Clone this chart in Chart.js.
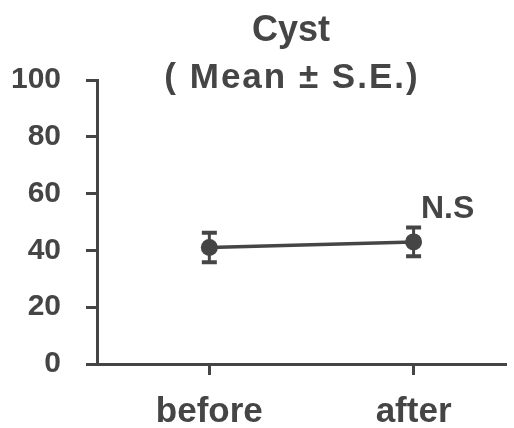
<!DOCTYPE html>
<html>
<head>
<meta charset="utf-8">
<script src="https://cdn.jsdelivr.net/npm/chart.js@4/dist/chart.umd.min.js"></script>
<style>
  html, body { margin: 0; padding: 0; background: #fff; }
  #wrap { width: 514px; height: 428px; }
</style>
</head>
<body>
<div id="wrap"><canvas id="cyst-chart"></canvas></div>
<script>
const categories = ['before', 'after'];
const meanValues = [41, 43];
const seValues = [5.2, 5.1];
const yTicks = [0, 20, 40, 60, 80, 100];
const titleLines = ['Cyst', '( Mean \u00b1 S.E.)'];
const sigLabel = 'N.S';

const ink = '#454545';
const fontFamily = '"Liberation Sans", Arial, sans-serif';

// error bars drawn from the scales
const errorBars = {
    id: 'errorBars',
    afterDatasetsDraw(chart) {
        const ctx = chart.ctx;
        const xs = chart.scales.x;
        const ys = chart.scales.y;
        ctx.save();
        ctx.strokeStyle = ink;
        meanValues.forEach((m, i) => {
            const px = xs.getPixelForValue(i);
            const top = ys.getPixelForValue(m + seValues[i]);
            const bot = ys.getPixelForValue(m - seValues[i]);
            ctx.lineWidth = 3;
            ctx.beginPath();
            ctx.moveTo(px, top);
            ctx.lineTo(px, bot);
            ctx.stroke();
            ctx.lineWidth = 4;
            ctx.beginPath();
            ctx.moveTo(px - 7.5, top);
            ctx.lineTo(px + 7.5, top);
            ctx.moveTo(px - 7.5, bot);
            ctx.lineTo(px + 7.5, bot);
            ctx.stroke();
        });
        ctx.restore();
    }
};

// title and significance text
const labelsPlugin = {
    id: 'labelsPlugin',
    afterDraw(chart) {
        const ctx = chart.ctx;
        const xs = chart.scales.x;
        const ys = chart.scales.y;
        ctx.save();
        ctx.fillStyle = ink;
        ctx.textAlign = 'center';
        ctx.textBaseline = 'alphabetic';
        ctx.font = 'bold 36px ' + fontFamily;
        ctx.fillText(titleLines[0], 291, 41);
        ctx.font = 'bold 35px ' + fontFamily;
        ctx.letterSpacing = '2px';
        ctx.fillText(titleLines[1], 292, 88);
        ctx.letterSpacing = '0px';
        ctx.font = 'bold 32px ' + fontFamily;
        ctx.fillText(sigLabel, xs.getPixelForValue(1) + 34, ys.getPixelForValue(51.5));
        ctx.restore();
    }
};

const ctx = document.getElementById('cyst-chart').getContext('2d');
const chart = new Chart(ctx, {
    type: 'line',
    data: {
        datasets: [{
            data: meanValues.map((v, i) => ({ x: i, y: v })),
            borderColor: ink,
            backgroundColor: ink,
            borderWidth: 3.5,
            pointRadius: 8.5,
            pointHoverRadius: 8.5,
            pointBackgroundColor: ink,
            pointBorderWidth: 0
        }]
    },
    options: {
        responsive: true,
        maintainAspectRatio: false,
        animation: false,
        layout: { padding: { top: 80, right: 4, left: 0, bottom: 0 } },
        plugins: {
            legend: { display: false },
            title: { display: false },
            tooltip: { enabled: false }
        },
        scales: {
            x: {
                type: 'linear',
                min: -0.55,
                max: 1.45,
                afterBuildTicks: scale => {
                    scale.ticks = categories.map((c, i) => ({ value: i }));
                },
                afterFit: scale => { scale.height = 64; },
                border: { color: ink, width: 3 },
                grid: { drawOnChartArea: false, drawTicks: true, tickLength: 11, color: ink, lineWidth: 3 },
                ticks: {
                    color: ink,
                    padding: 16,
                    maxRotation: 0,
                    font: { family: fontFamily, size: 35, weight: 'bold' },
                    callback: value => categories[value]
                }
            },
            y: {
                min: 0,
                max: 100,
                afterBuildTicks: scale => {
                    scale.ticks = yTicks.map(v => ({ value: v }));
                },
                afterFit: scale => { scale.width = 97; },
                border: { color: ink, width: 3 },
                grid: { drawOnChartArea: false, drawTicks: true, tickLength: 11, color: ink, lineWidth: 3 },
                ticks: {
                    color: ink,
                    padding: 25,
                    font: { family: fontFamily, size: 30, weight: 'bold' }
                }
            }
        }
    },
    plugins: [errorBars, labelsPlugin]
});
</script>
</body>
</html>
